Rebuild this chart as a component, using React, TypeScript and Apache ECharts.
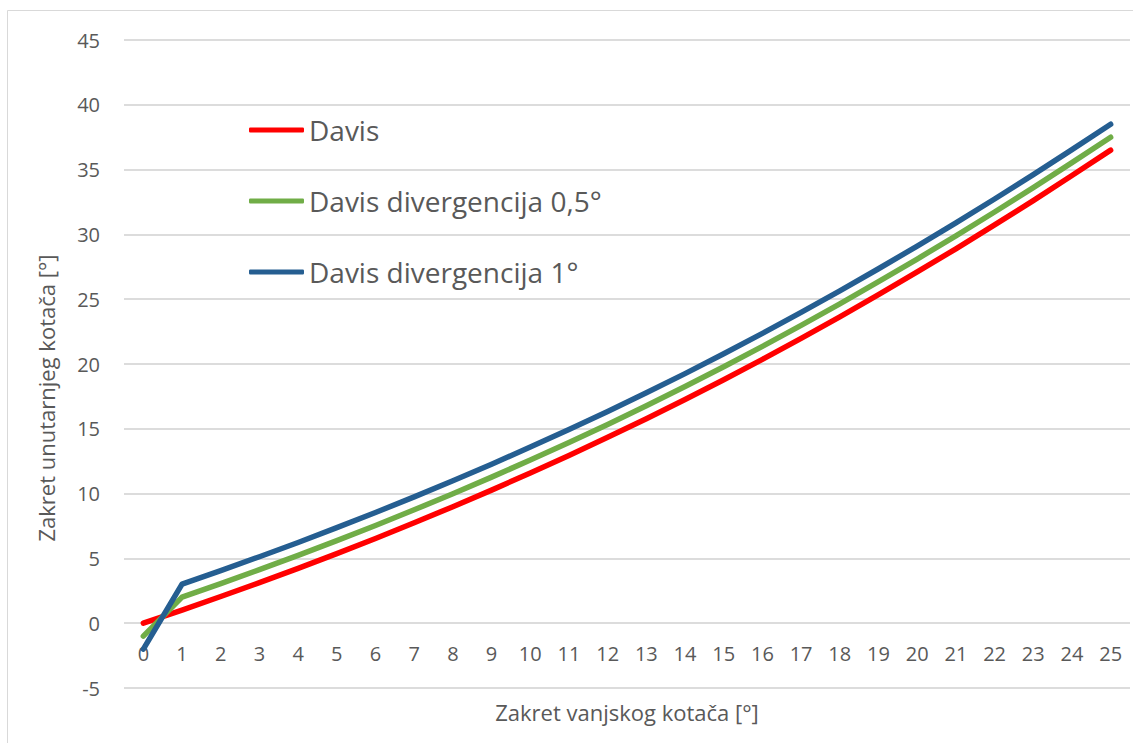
import React, { useEffect, useRef } from "react";
import * as echarts from "echarts";

const categories = ["0","1","2","3","4","5","6","7","8","9","10","11","12","13","14","15","16","17","18","19","20","21","22","23","24","25"];

const davis = [0, 1.01, 2.06, 3.13, 4.23, 5.37, 6.54, 7.75, 8.99, 10.27, 11.59, 12.94, 14.34, 15.78, 17.26, 18.79, 20.36, 21.98, 23.64, 25.35, 27.1, 28.89, 30.73, 32.61, 34.54, 36.5];
const davisDiv05 = [-1, 2.01, 3.06, 4.13, 5.23, 6.37, 7.54, 8.75, 9.99, 11.27, 12.59, 13.94, 15.34, 16.78, 18.26, 19.79, 21.36, 22.98, 24.64, 26.35, 28.1, 29.89, 31.73, 33.61, 35.54, 37.5];
const davisDiv1 = [-2, 3.01, 4.06, 5.13, 6.23, 7.37, 8.54, 9.75, 10.99, 12.27, 13.59, 14.94, 16.34, 17.78, 19.26, 20.79, 22.36, 23.98, 25.64, 27.35, 29.1, 30.89, 32.73, 34.61, 36.54, 38.5];

const seriesNames = ["Davis", "Davis divergencija 0,5°", "Davis divergencija 1°"];
const seriesColors = ["#FF0000", "#70AD47", "#255E91"];
const xTitle = "Zakret vanjskog kotača [°]";
const yTitle = "Zakret unutarnjeg kotača [°]";

const FONT = "'Open Sans', 'Noto Sans', sans-serif";
const TXT = "#595959";

export default function App() {
  const ref = useRef<HTMLDivElement>(null);
  useEffect(() => {
    if (!ref.current) return;
    const chart = echarts.init(ref.current, undefined, { renderer: "svg" });
    const data = [davis, davisDiv05, davisDiv1];
    chart.setOption({
      animation: false,
      backgroundColor: "#ffffff",
      textStyle: { fontFamily: FONT },
      grid: { left: 124, right: 3, top: 40, bottom: 55, containLabel: false },
      legend: {
        orient: "vertical",
        left: 249,
        top: 115,
        padding: 0,
        icon: "roundRect",
        itemWidth: 55,
        itemHeight: 5,
        itemGap: 41,
        data: seriesNames,
        textStyle: { fontFamily: FONT, fontSize: 28, color: TXT, lineHeight: 30, padding: [0, 0, 0, 0] },
      },
      xAxis: {
        type: "category",
        data: categories,
        boundaryGap: true,
        offset: -65,
        axisLine: { show: false, onZero: false },
        axisTick: { show: false },
        splitLine: { show: false },
        axisLabel: { fontFamily: FONT, fontSize: 20, color: TXT, margin: 20, interval: 0 },
      },
      yAxis: {
        type: "value",
        min: -5,
        max: 45,
        interval: 5,
        axisLine: { show: false },
        axisTick: { show: false },
        splitLine: { show: true, lineStyle: { color: "#dcdcdc", width: 2 } },
        axisLabel: { fontFamily: FONT, fontSize: 20, color: TXT, margin: 24 },
      },
      series: data.map((d, i) => ({
        name: seriesNames[i],
        type: "line",
        data: d,
        showSymbol: false,
        symbol: "none",
        itemStyle: { color: seriesColors[i] },
        lineStyle: { color: seriesColors[i], width: 5.5, cap: "round", join: "round" },
      })),
      graphic: [
        {
          type: "rect",
          shape: { x: 7.5, y: 10.5, width: 1140, height: 740 },
          style: { fill: "none", stroke: "#d9d9d9", lineWidth: 1 },
          silent: true,
        },
        {
          type: "text",
          x: 627,
          y: 712,
          style: { text: xTitle, fontFamily: FONT, fontSize: 22, fill: TXT, align: "center", verticalAlign: "middle" },
        },
        {
          type: "text",
          x: 46,
          y: 398,
          rotation: Math.PI / 2,
          style: { text: yTitle, fontFamily: FONT, fontSize: 22, fill: TXT, align: "center", verticalAlign: "middle" },
        },
      ],
    });
    return () => chart.dispose();
  }, []);
  return <div ref={ref} style={{ position: "absolute", left: 0, top: 0, width: 1133, height: 743 }} />;
}
